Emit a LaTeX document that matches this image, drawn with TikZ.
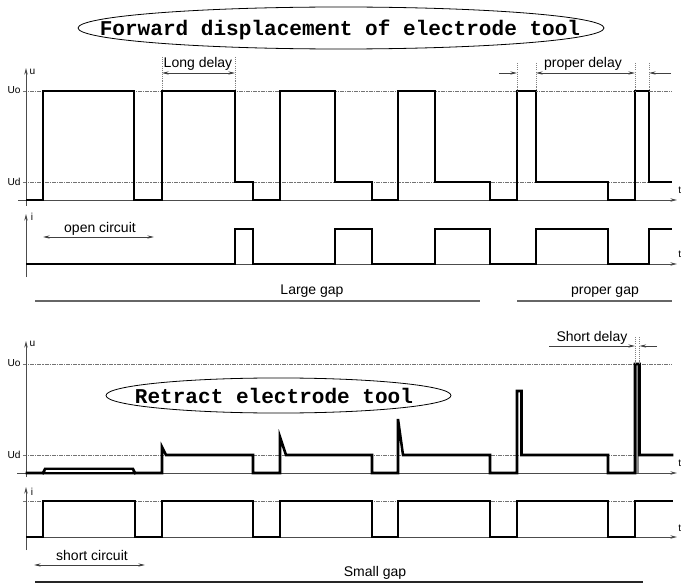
\documentclass[tikz,border=0pt]{standalone}
\usepackage{fontspec}
\setmainfont{Liberation Sans}
\newfontfamily\titlefont{Liberation Mono}
\usetikzlibrary{arrows.meta,shapes.geometric}
\begin{document}
\begin{tikzpicture}[x=0.75pt,y=-0.75pt,
  wave/.style={line width=1.9pt, line join=miter, line cap=rect},
  axisline/.style={line width=0.6pt, color=black!70},
  axarrow/.style={axisline, -{Stealth[length=5pt,width=2.6pt]}},
  refline/.style={line width=0.5pt, color=black!55, dash pattern=on 3pt off 0.8pt on 0.8pt off 0.8pt},
  vdot/.style={line width=0.5pt, color=black!50, dash pattern=on 0.8pt off 0.8pt},
  dimarrow/.style={line width=0.5pt, color=black!75, {Stealth[length=5pt,width=2.4pt]}-{Stealth[length=5pt,width=2.4pt]}},
  onearrow/.style={line width=0.5pt, color=black!75, -{Stealth[length=5pt,width=2.4pt]}},
  gapline/.style={line width=0.8pt, color=black!60},
  lbl/.style={font=\fontsize{10.5}{12}\selectfont, inner sep=0pt, anchor=base},
  slbl/.style={font=\fontsize{7.6}{9}\selectfont, inner sep=0pt},
  titletext/.style={font=\titlefont\bfseries\fontsize{15.8}{18}\selectfont, inner sep=0pt},
  titleoval/.style={draw, ellipse, line width=0.6pt, inner sep=0pt}]
\useasboundingbox (0,0) rectangle (683,585);

% ---------- titles ----------
\node[titleoval, minimum width=394.5pt, minimum height=31.5pt] (oval1) at (341,28) {};
\node[titletext] (title1) at (340,30) {Forward displacement of electrode tool};
\node[titleoval, minimum width=258.8pt, minimum height=26.3pt] (oval2) at (278.5,395.5) {};
\node[titletext] (title2) at (274,396) {Retract electrode tool};

% ---------- reference (dash-dot) lines ----------
\draw[refline] (23,91) -- (672,91);
\draw[refline] (23,182) -- (672,182);
\draw[refline] (23,364) -- (672,364);
\draw[refline] (23,455) -- (672,455);
\draw[refline] (23,501) -- (672,501);

% ---------- axes ----------
\coordinate (u1b) at (26,206); \coordinate (u1t) at (26,68);
\coordinate (t1l) at (18,200); \coordinate (t1r) at (677,200);
\coordinate (i1b) at (26,277); \coordinate (i1t) at (26,214);
\coordinate (t2l) at (26,264); \coordinate (t2r) at (677,264);
\coordinate (u2b) at (26,477); \coordinate (u2t) at (26,341);
\coordinate (t3l) at (17,473); \coordinate (t3r) at (677,473);
\coordinate (i2b) at (26,550); \coordinate (i2t) at (26,487);
\coordinate (t4l) at (26,537); \coordinate (t4r) at (677,537);
\draw[axarrow] (u1b) -- (u1t);
\draw[axarrow] (t1l) -- (t1r);
\draw[axarrow] (i1b) -- (i1t);
\draw[axarrow] (t2l) -- (t2r);
\draw[axarrow] (u2b) -- (u2t);
\draw[axarrow] (t3l) -- (t3r);
\draw[axarrow] (i2b) -- (i2t);
\draw[axarrow] (t4l) -- (t4r);

% axis labels
\node[slbl] (lu1) at (32.5,72) {u};
\node[slbl] (li1) at (32,217) {i};
\node[slbl] (lu2) at (32.5,344) {u};
\node[slbl] (li2) at (32,492) {i};
\node[slbl, anchor=west] (lt1) at (678,190) {t};
\node[slbl, anchor=west] (lt2) at (678,254) {t};
\node[slbl, anchor=west] (lt3) at (678,463) {t};
\node[slbl, anchor=west] (lt4) at (678,528) {t};
\node[slbl] (luo1) at (14,90.5) {Uo};
\node[slbl] (lud1) at (14,181.5) {Ud};
\node[slbl] (luo2) at (14,363.5) {Uo};
\node[slbl] (lud2) at (14,454.5) {Ud};

% ---------- top voltage ----------
\draw[wave] (27,200)--(43,200)--(43,91)--(134,91)--(134,200)--(162,200)--(162,91)--(235,91)--(235,182)--(253,182)--(253,200)--(280,200)--(280,91)--(335,91)--(335,182)--(372,182)--(372,200)--(398,200)--(398,91)--(435,91)--(435,182)--(490,182)--(490,200)--(517,200)--(517,91)--(536,91)--(536,182)--(608,182)--(608,200)--(635,200)--(635,91)--(649,91)--(649,182)--(671,182);

% ---------- top current ----------
\draw[wave] (27,264)--(235,264)--(235,229)--(253,229)--(253,264)--(335,264)--(335,229)--(372,229)--(372,264)--(435,264)--(435,229)--(490,229)--(490,264)--(536,264)--(536,229)--(608,229)--(608,264)--(649,264)--(649,229)--(671,229);

% ---------- bottom voltage ----------
\fill[black!45] (635,473) rectangle (639,364);
\draw[wave] (27,473)--(162,473)--(162,447)--(166,455)--(253,455)--(253,473)--(280,473)--(280,437)--(286,455)--(372,455)--(372,473)--(398,473)--(398,419)--(403,455)--(490,455)--(490,473)--(517,473)--(517,391)--(521.5,391)--(521.5,455)--(608,455)--(608,473)--(635,473)--(635,364)--(639.5,364)--(639.5,455)--(672,455);
\draw[wave] (43,473)--(45,469)--(133,469)--(135,473);
\draw[white, line width=0.9pt] (46,471) -- (132,471);

% ---------- bottom current ----------
\draw[wave] (27,537)--(43,537)--(43,501)--(135,501)--(135,537)--(162,537)--(162,501)--(253,501)--(253,537)--(280,537)--(280,501)--(372,501)--(372,537)--(398,537)--(398,501)--(490,501)--(490,537)--(517,537)--(517,501)--(608,501)--(608,537)--(635,537)--(635,501)--(672,501);

% ---------- long delay ----------
\draw[vdot] (162,57) -- (162,91);
\draw[vdot] (235,57) -- (235,91);
\coordinate (ld1) at (162,73); \coordinate (ld2) at (235,73);
\draw[dimarrow] (ld1) -- (ld2);
\node[lbl] (longdelay) at (198,67.5) {Long delay};

% ---------- proper delay ----------
\draw[vdot] (517,63) -- (517,91);
\draw[vdot] (536,63) -- (536,91);
\draw[vdot] (635,63) -- (635,91);
\draw[vdot] (649,63) -- (649,91);
\coordinate (pd0) at (499,73); \coordinate (pd1) at (517,73);
\coordinate (pd2) at (536,73); \coordinate (pd3) at (635,73);
\coordinate (pd4) at (649,73); \coordinate (pd5) at (671,73);
\draw[onearrow] (pd0) -- (pd1);
\draw[dimarrow] (pd2) -- (pd3);
\draw[onearrow] (pd5) -- (pd4);
\node[lbl] (properdelay) at (583,68) {proper delay};

% ---------- short delay ----------
\draw[vdot] (635,337) -- (635,364);
\draw[vdot] (639.5,337) -- (639.5,364);
\coordinate (sd0) at (549,346); \coordinate (sd1) at (635,346);
\coordinate (sd2) at (639.5,346); \coordinate (sd3) at (657,346);
\draw[onearrow] (sd0) -- (sd1);
\draw[onearrow] (sd3) -- (sd2);
\node[lbl] (shortdelay) at (592,341.5) {Short delay};

% ---------- open / short circuit ----------
\coordinate (oc1) at (43,237); \coordinate (oc2) at (154,237);
\draw[dimarrow] (oc1) -- (oc2);
\node[lbl] (opencirc) at (100,232.5) {open circuit};
\coordinate (sc1) at (34,565); \coordinate (sc2) at (145,565);
\draw[dimarrow] (sc1) -- (sc2);
\node[lbl] (shortcirc) at (92,560.5) {short circuit};

% ---------- gaps ----------
\coordinate (lg1) at (35,301); \coordinate (lg2) at (480,301);
\draw[gapline] (lg1) -- (lg2);
\node[lbl] (largegap) at (312,295) {Large gap};
\coordinate (pg1) at (517,301); \coordinate (pg2) at (672,301);
\draw[gapline] (pg1) -- (pg2);
\node[lbl] (propergap) at (605,295) {proper gap};
\coordinate (sg1) at (35,582); \coordinate (sg2) at (643,582);
\draw[gapline, color=black!85] (sg1) -- (sg2);
\node[lbl] (smallgap) at (375,576) {Small gap};
\end{tikzpicture}
\end{document}
